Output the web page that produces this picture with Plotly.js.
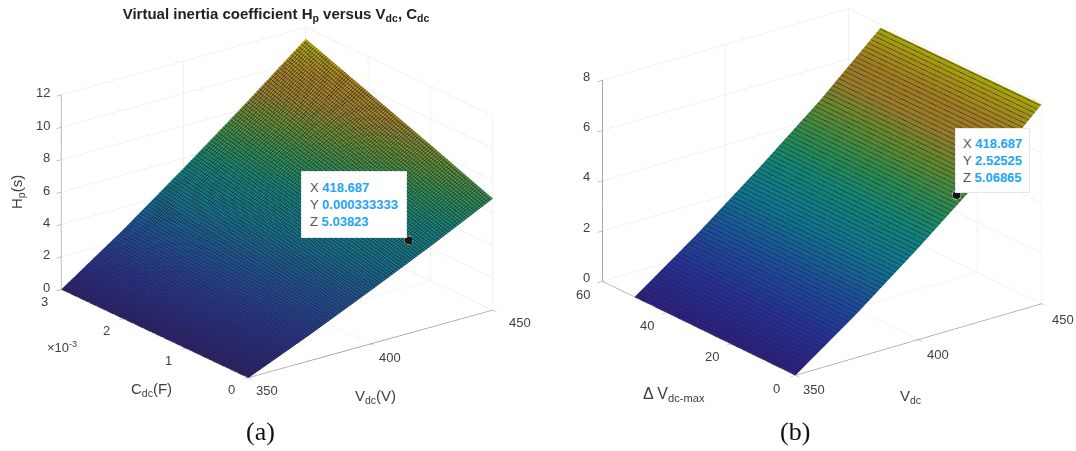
<!DOCTYPE html>
<html><head><meta charset="utf-8">
<script src="https://cdn.plot.ly/plotly-3.0.1.min.js"></script>
<style>html,body{margin:0;padding:0;background:#fff}#g{width:1076px;height:451px}</style>
</head><body><div id="g"></div>
<script>
const vdcA=[350,375,400,425,450];
const cdc=[0,0.001,0.002,0.003];
const hpA=[
 [0,1.6,3.3,5.05,6.9],
 [0,1.95,4.0,6.15,8.4],
 [0,2.3,4.7,7.2,9.85],
 [0,2.6,5.4,8.3,11.3]];
const vdcB=[350,375,400,425,450];
const dv=[0,25,50];
const hpB=[
 [0,1.75,3.65,5.65,7.93],
 [0,1.75,3.65,5.65,7.9],
 [0,1.75,3.65,5.65,7.87]];
const vTicks=[350,400,450];
const cTicks=[0,0.001,0.002,0.003];
const cLabels=['0','1','2','3'];
const zTicksA=[0,2,4,6,8,10,12];
const dvTicks=[0,20,40,60];
const zTicksB=[0,2,4,6,8];
const tipA={x:420.3,y:0.000187,z:5.22,label:['418.687','0.000333333','5.03823']};
const tipB={x:416.94,y:1.17,z:5.2,label:['418.687','2.52525','5.06865']};
const scaleA=[[0,'#2d2088'],[0.12,'#2a36a8'],[0.25,'#1e5ab0'],[0.38,'#1080a0'],[0.5,'#109088'],[0.6,'#2f9a5a'],[0.7,'#6c9835'],[0.8,'#aa892e'],[0.88,'#b58a26'],[0.95,'#b8a21a'],[1,'#bebc0a']];
const scaleB=[[0,'#2b1f80'],[0.12,'#262f98'],[0.25,'#1b4f9c'],[0.38,'#0f7490'],[0.5,'#0f8478'],[0.6,'#2a8a50'],[0.7,'#60882f'],[0.8,'#987a28'],[0.88,'#a07a22'],[0.95,'#a38f18'],[1,'#a8a60a']];
const TC='#404040',FF='Liberation Sans, Arial, sans-serif',BL='#1ea5f5';
function eye(tDeg,eDeg,D){const t=tDeg*Math.PI/180,e=eDeg*Math.PI/180;
 return {x:-D*Math.sin(t)*Math.cos(e),y:-D*Math.cos(t)*Math.cos(e),z:D*Math.sin(e)};}
function ax(range,tickvals){return {range:range,autorange:false,tickmode:'array',tickvals:tickvals,showticklabels:false,
 title:{text:''},showgrid:true,gridcolor:'#e4e4e4',gridwidth:1,showbackground:false,zeroline:false,
 showline:true,linecolor:'#8a8a8a',linewidth:1.5,ticks:'outside',ticklen:6,tickcolor:'#8a8a8a',tickwidth:1,showspikes:false};}
function tick(x,y,z,text,dx,dy,anchor){return {x:x,y:y,z:z,text:text,showarrow:false,xshift:dx,yshift:-dy,xanchor:anchor||'center',yanchor:'middle',font:{family:FF,size:13,color:TC}};}
function tipText(l){const g=s=>'<span style="color:#555555">'+s+'</span> ';const b=s=>'<b><span style="color:'+BL+'">'+s+'</span></b>';
 return g('X')+b(l[0])+'<br>'+g('Y')+b(l[1])+'<br>'+g('Z')+b(l[2]);}
function tipAnn(t,dx,dy,ax_,ay_,pad){return {x:t.x,y:t.y,z:t.z,text:tipText(t.label),showarrow:false,xshift:dx,yshift:dy,xanchor:ax_,yanchor:ay_,align:'left',bgcolor:'#ffffff',bordercolor:'#e4e8ee',borderwidth:1,borderpad:pad,font:{family:FF,size:13,color:TC}};}
const annA=[];
zTicksA.forEach(v=>annA.push(tick(350,0.003,v,String(v),-9,-2,'right')));
cTicks.forEach((v,i)=>annA.push(tick(350,v,0,cLabels[i],-17,12)));
vTicks.forEach((v,i)=>annA.push(tick(v,0,0,String(v),[19,20,27][i],[13,13.5,12][i])));
annA.push(tipAnn(tipA,-1.5,2,'right','bottom',8));
const annB=[];
zTicksB.forEach(v=>annB.push(tick(350,60,v,String(v),-10,-4,'right')));
dvTicks.forEach(v=>annB.push(tick(350,v,0,String(v),-19,13)));
vTicks.forEach((v,i)=>annB.push(tick(v,0,0,String(v),[19,20,22][i],[14,15,16][i])));
annB.push(tipAnn(tipB,-0.5,2,'left','bottom',7));
function surf(x,y,z,scene,sx,sy,cs){return {type:'surface',x:x,y:y,z:z,scene:scene,colorscale:cs,showscale:false,hoverinfo:'skip',
 lighting:{ambient:1,diffuse:0,specular:0,roughness:1,fresnel:0},
 contours:{x:{show:true,start:x[0],end:x[x.length-1],size:sx,color:'#242424',width:1},
           y:{show:sy>0,start:y[0],end:y[y.length-1],size:sy||1,color:'#242424',width:1},
           z:{show:false}}};}
function pt(t,scene){return {type:'scatter3d',mode:'markers',x:[t.x],y:[t.y],z:[t.z],scene:scene,hoverinfo:'skip',showlegend:false,
 marker:{size:5,color:'#111111',line:{color:'#ffffff',width:2}}};}
const traces=[surf(vdcA,cdc,hpA,'scene',1,0.00003,scaleA),surf(vdcB,dv,hpB,'scene2',1.2,0,scaleB),pt(tipA,'scene'),pt(tipB,'scene2')];
function txt(x,y,t,size,extra){return Object.assign({xref:'paper',yref:'paper',x:x/1076,y:1-y/451,text:t,showarrow:false,xanchor:'center',yanchor:'middle',font:{family:FF,size:size,color:TC}},extra||{});}
const layout={width:1076,height:451,margin:{l:0,r:0,t:0,b:0,pad:0},paper_bgcolor:'#fff',showlegend:false,
 title:{text:'<b>Virtual inertia coefficient H<sub>p</sub> versus V<sub>dc</sub>, C<sub>dc</sub></b>',x:276/1076,xanchor:'center',xref:'paper',y:1-14/451,yanchor:'middle',yref:'paper',font:{family:FF,size:15,color:'#222'}},
 scene:{domain:{x:[0,554/1076],y:[1-405/451,1]},aspectmode:'manual',aspectratio:{x:1.52,y:1.52,z:1.03},
  camera:{projection:{type:'orthographic'},eye:eye(37.4,21.2,2.5),up:{x:0,y:0,z:1},center:{x:0,y:0,z:0}},
  xaxis:ax([350,450],vTicks),yaxis:ax([0,0.003],cTicks),zaxis:ax([0,12],zTicksA),annotations:annA,dragmode:false},
 scene2:{domain:{x:[568.5/1076,1074.5/1076],y:[1-384/451,1]},aspectmode:'manual',aspectratio:{x:1.62,y:1.645,z:1.13},
  camera:{projection:{type:'orthographic'},eye:eye(37.7,22.1,2.5),up:{x:0,y:0,z:1},center:{x:0,y:0,z:0}},
  xaxis:ax([350,450],vTicks),yaxis:ax([0,60],dvTicks),zaxis:ax([0,8],zTicksB),annotations:annB,dragmode:false},
 annotations:[
  txt(62,347,'×10<sup>-3</sup>',13),
  txt(151,389,'C<sub>dc</sub>(F)',15),
  txt(375,396,'V<sub>dc</sub>(V)',15),
  txt(17,192,'H<sub>p</sub>(s)',15,{textangle:-90}),
  txt(674,394,'Δ V<sub>dc-max</sub>',16),
  txt(910,396,'V<sub>dc</sub>',15),
  txt(260,431,'(a)',26,{font:{family:'Liberation Serif, serif',size:26,color:'#111'}}),
  txt(795,431,'(b)',26,{font:{family:'Liberation Serif, serif',size:26,color:'#111'}})
 ]};
Plotly.newPlot('g',traces,layout,{displayModeBar:false,staticPlot:false});
</script></body></html>
